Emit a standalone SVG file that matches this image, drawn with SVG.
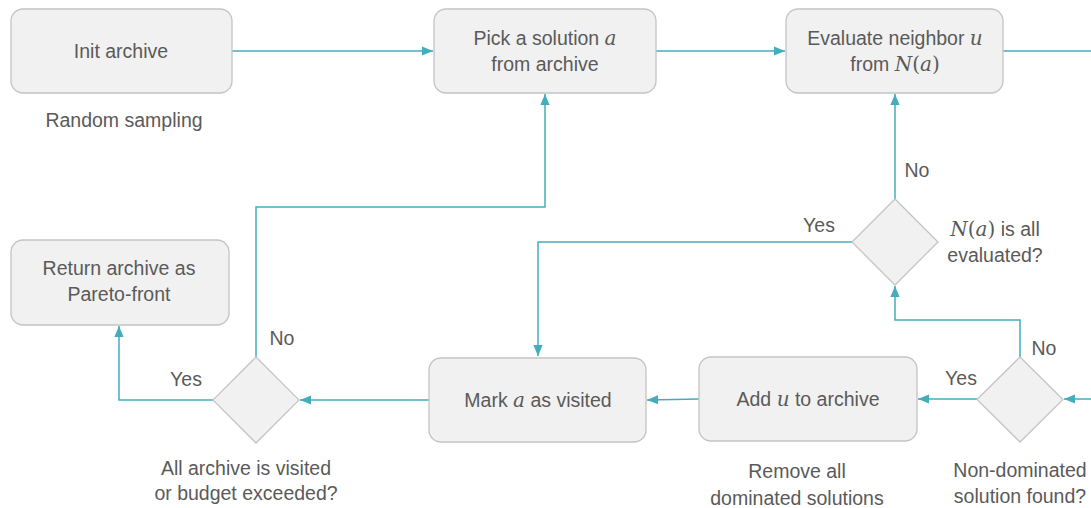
<svg xmlns="http://www.w3.org/2000/svg" width="1091" height="508" viewBox="0 0 1091 508">
<style>
.box{fill:#f1f1f1;stroke:#c4c4c4;stroke-width:1.3}
.t{font-family:"Liberation Sans",Arial,sans-serif;font-size:19.5px;fill:#5a5a5a;text-anchor:middle}
.m{font-family:"DejaVu Serif","Liberation Serif",serif;font-style:italic;font-size:20px}
.p{font-family:"DejaVu Serif","Liberation Serif",serif;font-style:normal;font-size:20px}
.c{fill:none;stroke:#45acbe;stroke-width:1.5}
</style>
<defs>
<marker id="ah" viewBox="0 0 10 10" refX="10" refY="5" markerWidth="11" markerHeight="11" markerUnits="userSpaceOnUse" orient="auto">
<path d="M0,0.8 L10,5 L0,9.2 z" fill="#45acbe"/>
</marker>
</defs>
<g id="connectors">
<path class="c" d="M232,51 H433" marker-end="url(#ah)"/>
<path class="c" d="M656,51 H785" marker-end="url(#ah)"/>
<path class="c" d="M1003,51 H1091"/>
<path class="c" d="M895,199 V94" marker-end="url(#ah)"/>
<path class="c" d="M852,242 H538 V356" marker-end="url(#ah)"/>
<path class="c" d="M1020,357 V320 H895 V286" marker-end="url(#ah)"/>
<path class="c" d="M1091,399 H1064" marker-end="url(#ah)"/>
<path class="c" d="M977,399 H918" marker-end="url(#ah)"/>
<path class="c" d="M699,399 L647,400" marker-end="url(#ah)"/>
<path class="c" d="M429,400 H300" marker-end="url(#ah)"/>
<path class="c" d="M213,400 H119 V326" marker-end="url(#ah)"/>
<path class="c" d="M256,357 V207 H545 V94" marker-end="url(#ah)"/>
</g>
<g id="init">
<rect class="box" x="11" y="9" width="221" height="84" rx="12"/>
<text class="t" x="121" y="58">Init archive</text>
<text class="t" x="124" y="127">Random sampling</text>
</g>
<g id="pick">
<rect class="box" x="434" y="9" width="222" height="84" rx="12"/>
<text class="t" x="545" y="45">Pick a solution <tspan class="m">a</tspan></text>
<text class="t" x="545" y="71">from archive</text>
</g>
<g id="evaluate">
<rect class="box" x="786" y="9" width="217" height="84" rx="12"/>
<text class="t" x="895" y="45">Evaluate neighbor <tspan class="m">u</tspan></text>
<text class="t" x="895" y="71">from <tspan class="m">N</tspan><tspan class="p">(</tspan><tspan class="m">a</tspan><tspan class="p">)</tspan></text>
</g>
<g id="allEvaluated">
<path class="box" d="M895,199 L938,242 L895,285 L852,242 Z"/>
<text class="t" x="995" y="236"><tspan class="m">N</tspan><tspan class="p">(</tspan><tspan class="m">a</tspan><tspan class="p">)</tspan> is all</text>
<text class="t" x="995" y="262">evaluated?</text>
<text class="t" x="917" y="177">No</text>
<text class="t" x="819" y="232">Yes</text>
</g>
<g id="nonDominated">
<path class="box" d="M1020,357 L1063,399.5 L1020,442 L977,399.5 Z"/>
<text class="t" x="1020" y="477">Non-dominated</text>
<text class="t" x="1020" y="503">solution found?</text>
<text class="t" x="1044" y="355">No</text>
<text class="t" x="961" y="385">Yes</text>
</g>
<g id="addU">
<rect class="box" x="699" y="357" width="218" height="84" rx="12"/>
<text class="t" x="808" y="406">Add <tspan class="m">u</tspan> to archive</text>
<text class="t" x="797" y="478">Remove all</text>
<text class="t" x="797" y="505">dominated solutions</text>
</g>
<g id="mark">
<rect class="box" x="429" y="358" width="217" height="84" rx="12"/>
<text class="t" x="538" y="407">Mark <tspan class="m">a</tspan> as visited</text>
</g>
<g id="allVisited">
<path class="box" d="M256,357 L299,400 L256,443 L213,400 Z"/>
<text class="t" x="246" y="475">All archive is visited</text>
<text class="t" x="246" y="500">or budget exceeded?</text>
<text class="t" x="282" y="345">No</text>
<text class="t" x="186" y="386">Yes</text>
</g>
<g id="return">
<rect class="box" x="11" y="240" width="218" height="85" rx="12"/>
<text class="t" x="119" y="275">Return archive as</text>
<text class="t" x="119" y="301">Pareto-front</text>
</g>
</svg>
